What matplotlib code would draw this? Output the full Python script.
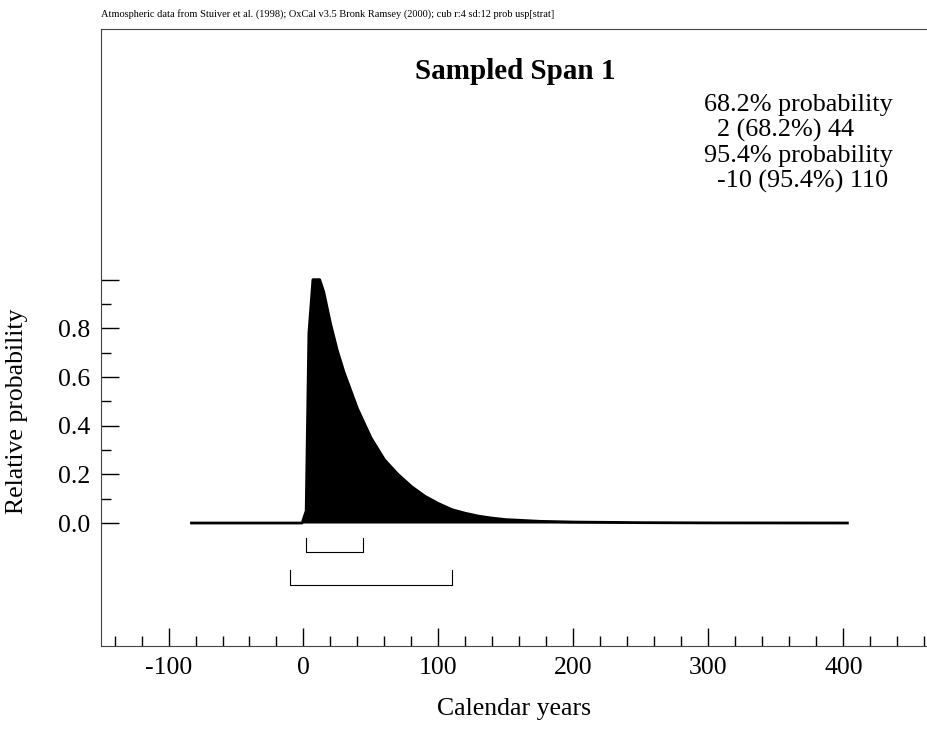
import matplotlib
matplotlib.use("Agg")
import matplotlib.pyplot as plt
from matplotlib.ticker import MultipleLocator, FixedLocator

plt.rcParams['font.family'] = ['Liberation Serif', 'DejaVu Serif']
plt.rcParams['axes.unicode_minus'] = False

years = [-83, -1, 2, 4, 7, 12, 15, 20, 25, 30, 40, 50, 60, 70, 80, 90, 100, 110, 120,
         130, 140, 150, 175, 200, 250, 300, 403]
prob = [0, 0, 0.05, 0.78, 1.0, 1.0, 0.95, 0.82, 0.71, 0.62, 0.47, 0.35, 0.26, 0.2,
        0.15, 0.11, 0.08, 0.055, 0.04, 0.028, 0.02, 0.014, 0.007, 0.004, 0.0015, 0.0005, 0]
range68 = (2, 44)
range95 = (-10, 110)

fig = plt.figure(figsize=(9.27, 7.34), dpi=100)
ax = fig.add_axes([0.109, 0.12, 0.891, 0.8405])
ax.fill_between(years, prob, 0, color='black', lw=0)
ax.plot(years, prob, color='black', lw=2)

for (a, b), y in [(range68, -0.12), (range95, -0.255)]:
    ax.plot([a, a, b, b], [y + 0.06, y, y, y + 0.06], color='black', lw=0.8)

ax.set_xlim(-150, 462)
ax.set_ylim(-0.505, 2.03)
ax.xaxis.set_major_locator(MultipleLocator(100))
ax.xaxis.set_minor_locator(MultipleLocator(20))
ax.yaxis.set_major_locator(FixedLocator([0, 0.2, 0.4, 0.6, 0.8, 1.0]))
ax.yaxis.set_minor_locator(FixedLocator([0.1, 0.3, 0.5, 0.7, 0.9]))
ax.set_yticklabels(['0.0', '0.2', '0.4', '0.6', '0.8', ''])
ax.tick_params(direction='in', which='major', length=13, labelsize=18.5, width=1, pad=8)
ax.tick_params(direction='in', which='minor', length=7, width=1)
ax.spines['right'].set_visible(False)
for s in ['left', 'bottom', 'top']:
    ax.spines[s].set_color('#444444')
ax.set_xlabel('Calendar years', fontsize=18.5, labelpad=14)
ax.set_ylabel('Relative probability', fontsize=18.5)
ax.yaxis.set_label_coords(-0.088, 0.38)

fig.text(0.556, 0.902, 'Sampled Span 1', fontsize=21, fontweight='bold', ha='center', va='center')
fig.text(0.759, 0.872, '68.2% probability\n  2 (68.2%) 44\n95.4% probability\n  -10 (95.4%) 110',
         fontsize=18.8, ha='left', va='top', linespacing=1.16)
fig.text(0.109, 0.981, 'Atmospheric data from Stuiver et al. (1998); OxCal v3.5 Bronk Ramsey (2000); cub r:4 sd:12 prob usp[strat]',
         fontsize=7.5, ha='left', va='center')
fig.savefig('out.png', dpi=100)
